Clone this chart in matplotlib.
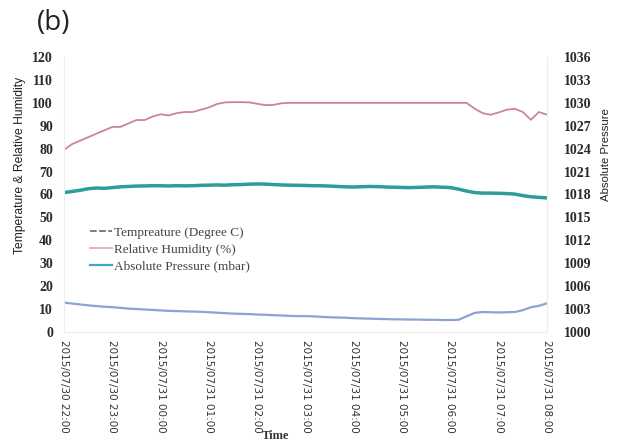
import matplotlib
matplotlib.use("Agg")
import matplotlib.pyplot as plt
import matplotlib.dates as mdates
from matplotlib.lines import Line2D
import pandas as pd

# ---- data (10-minute readings, one row per hour) ----
temperature = [
    12.8, 12.4, 12.0, 11.6, 11.3, 11.0,
    10.8, 10.5, 10.2, 10.0, 9.8, 9.6,
    9.4, 9.2, 9.1, 9.0, 8.9, 8.8,
    8.6, 8.4, 8.2, 8.0, 7.9, 7.8,
    7.6, 7.5, 7.3, 7.2, 7.0, 6.9,
    6.9, 6.8, 6.6, 6.4, 6.3, 6.2,
    6.0, 5.9, 5.8, 5.7, 5.6, 5.5,
    5.5, 5.4, 5.4, 5.3, 5.3, 5.2,
    5.2, 5.3, 6.8, 8.3, 8.7, 8.6,
    8.5, 8.6, 8.7, 9.5, 10.8, 11.4,
    12.5,
]
humidity = [
    79.5, 82.0, 83.5, 85.0, 86.5, 88.0,
    89.5, 89.5, 91.0, 92.5, 92.5, 94.0,
    95.0, 94.5, 95.5, 96.0, 96.0, 97.0,
    98.0, 99.5, 100.2, 100.3, 100.3, 100.2,
    99.6, 99.0, 99.1, 99.8, 100.0, 100.0,
    100.0, 100.0, 100.0, 100.0, 100.0, 100.0,
    100.0, 100.0, 100.0, 100.0, 100.0, 100.0,
    100.0, 100.0, 100.0, 100.0, 100.0, 100.0,
    100.0, 100.0, 100.0, 97.5, 95.5, 94.8,
    95.8, 97.0, 97.4, 96.0, 92.6, 96.0,
    94.8,
]
pressure = [
    1018.25, 1018.40, 1018.55, 1018.75, 1018.85, 1018.80,
    1018.90, 1019.00, 1019.05, 1019.10, 1019.12, 1019.15,
    1019.14, 1019.12, 1019.15, 1019.13, 1019.15, 1019.20,
    1019.22, 1019.25, 1019.22, 1019.28, 1019.30, 1019.35,
    1019.38, 1019.36, 1019.30, 1019.25, 1019.22, 1019.20,
    1019.18, 1019.15, 1019.14, 1019.10, 1019.05, 1019.00,
    1018.98, 1019.02, 1019.05, 1019.03, 1018.98, 1018.95,
    1018.92, 1018.90, 1018.93, 1018.97, 1019.00, 1018.95,
    1018.90, 1018.70, 1018.45, 1018.25, 1018.18, 1018.18,
    1018.15, 1018.12, 1018.05, 1017.85, 1017.70, 1017.62,
    1017.55,
]
times = pd.date_range("2015-07-30 22:00", periods=len(temperature), freq="10min")
x_ticks = pd.date_range("2015-07-30 22:00", "2015-07-31 08:00", freq="1h")
left_ticks = list(range(0, 121, 10))
right_ticks = list(range(1000, 1037, 3))

labels = ["Tempreature (Degree C)", "Relative Humidity (%)", "Absolute Pressure (mbar)"]

# ---- figure ----
fig = plt.figure(figsize=(6.28, 4.42), dpi=100)
ax = fig.add_axes([0.102, 0.249, 0.769, 0.622])
ax2 = ax.twinx()

c_temp = "#8da3d3"
c_hum = "#cc8493"
c_pres = "#2f9b9a"

ax.plot(times, temperature, color=c_temp, lw=1.6)
ax.plot(times, humidity, color=c_hum, lw=1.3)
ax2.plot(times, pressure, color=c_pres, lw=2.5)

ax.set_ylim(0, 120)
ax2.set_ylim(1000, 1036)
ax.set_yticks(left_ticks)
ax2.set_yticks(right_ticks)
ax.set_xlim(x_ticks[0], x_ticks[-1])
ax.set_xticks(x_ticks)
ax.xaxis.set_major_formatter(mdates.DateFormatter("%Y/%m/%d %H:%M"))

for a in (ax, ax2):
    for name, s in a.spines.items():
        s.set_color("#eeeeee")
        s.set_linewidth(0.8)
        if name == "top":
            s.set_visible(False)
    a.tick_params(length=0)

ax.tick_params(axis="y", pad=8)
ax2.tick_params(axis="y", pad=12)
ax.tick_params(axis="x", pad=6)

for t in ax.get_yticklabels() + ax2.get_yticklabels():
    t.set_fontfamily("Liberation Serif")
    t.set_fontsize(10)
    t.set_fontweight("bold")
    t.set_color("#2a2a2a")
for t in ax.get_xticklabels():
    t.set_fontfamily("DejaVu Sans")
    t.set_fontsize(7.5)
    t.set_rotation(270)
    t.set_color("#333333")

fig.text(20 / 628, 1 - 165 / 442, "Temperature & Relative Humidity", rotation=90,
         ha="center", va="center", fontsize=8.7, family="Liberation Sans", color="#222222")
fig.text(606 / 628, 1 - 155 / 442, "Absolute Pressure", rotation=90,
         ha="center", va="center", fontsize=8.2, family="Liberation Sans", color="#222222")
fig.text(37 / 628, 1 - 23 / 442, "(b)", ha="left", va="center", fontsize=20,
         family="Open Sans", color="#222222")
fig.text(275 / 628, 1 - 436 / 442, "Time", ha="center", va="center", fontsize=9,
         family="Liberation Serif", fontweight="bold", color="#333333")

handles = [
    Line2D([], [], color="#5a6878", lw=1.2, linestyle=(0, (4, 1.5))),
    Line2D([], [], color="#e3a5b3", lw=1.2),
    Line2D([], [], color="#3fa6cc", lw=1.6),
]
leg = ax.legend(handles, labels, loc="center left", bbox_to_anchor=(0.03, 0.30),
                frameon=False, handlelength=1.6, handletextpad=0.2, labelspacing=0.35,
                prop={"family": "Liberation Serif", "size": 9.5})
for t in leg.get_texts():
    t.set_color("#444444")

fig.savefig("out.png", dpi=100)
